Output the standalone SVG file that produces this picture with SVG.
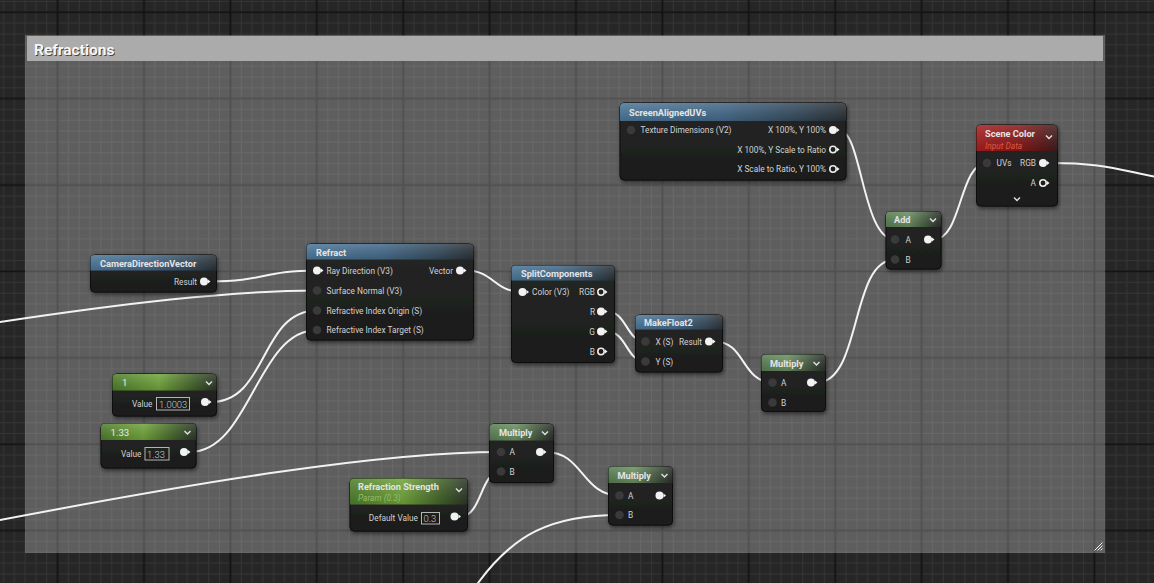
<svg xmlns="http://www.w3.org/2000/svg" width="1154" height="583" viewBox="0 0 1154 583">
<defs>
<pattern id="grid" patternUnits="userSpaceOnUse" x="52.2" y="6.9" width="86.4" height="86.4">
<rect width="86.4" height="86.4" fill="#262626"/>
<path d="M16.2,0V86.4M27,0V86.4M37.8,0V86.4M48.6,0V86.4M59.4,0V86.4M70.2,0V86.4M81,0V86.4M0,16.2H86.4M0,27H86.4M0,37.8H86.4M0,48.6H86.4M0,59.4H86.4M0,70.2H86.4M0,81H86.4" stroke="#353535" stroke-width="1"/>
<path d="M5.4,0V86.4M0,5.4H86.4" stroke="#131313" stroke-width="1.8"/>
</pattern>
<linearGradient id="gBody" x1="0" y1="0" x2="0" y2="1">
<stop offset="0" stop-color="#262726"/><stop offset="1" stop-color="#1b1c1b"/>
</linearGradient>
<linearGradient id="gBlue" x1="0" y1="0" x2="1" y2="0">
<stop offset="0" stop-color="#4b7697"/><stop offset="0.45" stop-color="#44698a"/><stop offset="0.8" stop-color="#34495a"/><stop offset="1" stop-color="#2a3036"/>
</linearGradient>
<linearGradient id="gGreen" x1="0" y1="0" x2="1" y2="0">
<stop offset="0" stop-color="#587d52"/><stop offset="0.4" stop-color="#6a8f62"/><stop offset="0.8" stop-color="#3d4f3a"/><stop offset="1" stop-color="#2a2e29"/>
</linearGradient>
<linearGradient id="gConst" x1="0" y1="0" x2="1" y2="0">
<stop offset="0" stop-color="#4e7d2b"/><stop offset="0.45" stop-color="#70a53a"/><stop offset="0.8" stop-color="#3e5c27"/><stop offset="1" stop-color="#2c3527"/>
</linearGradient>
<linearGradient id="gRed" x1="0" y1="0" x2="1" y2="0">
<stop offset="0" stop-color="#a81e1e"/><stop offset="0.5" stop-color="#8c1818"/><stop offset="0.85" stop-color="#5a1818"/><stop offset="1" stop-color="#3c1e1e"/>
</linearGradient>
<linearGradient id="gGloss" x1="0" y1="0" x2="0" y2="1">
<stop offset="0" stop-color="#fff" stop-opacity="0.14"/><stop offset="1" stop-color="#000" stop-opacity="0.12"/>
</linearGradient>
<filter id="sh" x="-10%" y="-10%" width="130%" height="140%">
<feDropShadow dx="1" dy="2" stdDeviation="2" flood-color="#000" flood-opacity="0.55"/>
</filter>
<style>
.body{fill:url(#gBody);stroke:#0b0b0b;stroke-width:1;filter:url(#sh)}
.hb{fill:url(#gBlue)}.hg{fill:url(#gGreen)}.hc{fill:url(#gConst)}.hr{fill:url(#gRed)}
.gl{fill:url(#gGloss)}
text{font-family:Roboto,"Liberation Sans",sans-serif}
.title{font-size:9.2px;font-weight:bold;fill:#e4e4e4}
.ctitle{font-size:9.6px;fill:#e6e6e6}
.sub{font-size:8.4px;font-style:italic}
.t{font-size:8.3px;fill:#d2d2d2}
.v{font-size:9.4px;font-weight:300;fill:#cfcfcf}
.box{fill:none;stroke:#b4b4b4;stroke-width:1}
.pw{fill:#f2f2f2}
.pd{fill:#3a3a3a}
.ph{fill:none;stroke:#ececec;stroke-width:1.6}
.chev{fill:none;stroke:#e2e2e2;stroke-width:1.4}
.wire{fill:none;stroke:#f2f2f2;stroke-width:2}
</style>
</defs>

<g id="background">
<rect width="1154" height="583" fill="url(#grid)"/>
</g>

<g id="comment-refractions">
<rect x="25" y="35" width="1080" height="518" fill="#ffffff" opacity="0.26"/>
<rect x="27" y="36" width="1076" height="25" fill="#ababab"/>
<text x="35" y="56" font-size="15.5" font-weight="bold" fill="#2a2a2a" opacity="0.8">Refractions</text>
<text x="34" y="55" font-size="15.5" font-weight="bold" fill="#f6f6f6">Refractions</text>
<path d="M1094.5,550.5L1102.5,542.5M1097.5,550.5L1102.5,545.5M1100.5,550.5L1102.5,548.5" stroke="#eeeeee" stroke-width="1"/>
</g>

<g id="connectors">
<path class="wire" d="M839,130 C862,130 862,239.5 895,239.5"/>
<path class="wire" d="M934,239.5 C962,239.5 959,163 987,163"/>
<path class="wire" d="M1049,163 C1100,163 1112,168 1156,177"/>
<path class="wire" d="M210,281.5 C265,281.5 262,270.5 317,270.5"/>
<path class="wire" d="M-2,322.3 C120,304 230,290.5 317,290.5"/>
<path class="wire" d="M211,402 C268,402 260,310.5 317,310.5"/>
<path class="wire" d="M190,452 C250,452 257,330 317,330"/>
<path class="wire" d="M466,270.5 C494,270.5 494,292 522.5,292"/>
<path class="wire" d="M607,311.5 C627,311.5 626,341.5 645.5,341.5"/>
<path class="wire" d="M607,331.5 C627,331.5 626,361.5 645.5,361.5"/>
<path class="wire" d="M715,341.5 C745,341.5 742,382.5 772.5,382.5"/>
<path class="wire" d="M817,382.5 C862,382.5 850,259.5 895,259.5"/>
<path class="wire" d="M-2,520.4 C200,482 380,452 501,452"/>
<path class="wire" d="M460.5,516.5 C482,516.5 480,471.5 501,471.5"/>
<path class="wire" d="M546,452 C583,452 582,495.5 619.5,495.5"/>
<path class="wire" d="M468,596.6 L478,583 C513,535.4 549.5,515 619.5,515"/>
</g>

<g id="node-screenaligneduvs">
<rect class="body" x="620" y="103" width="226" height="77" rx="4"/>
<path class="hb" d="M620,121V107Q620,103 624,103H842Q846,103 846,107V121Z"/>
<path class="gl" d="M620,121V107Q620,103 624,103H842Q846,103 846,107V121Z"/>
<text class="title" x="629" y="115.5">ScreenAlignedUVs</text>
<circle class="pd" cx="631" cy="130" r="4.3"/>
<text class="t" x="640.5" y="133">Texture Dimensions (V2)</text>
<text class="t" x="826" y="133" text-anchor="end">X 100%, Y 100%</text>
<circle class="pw" cx="833" cy="130" r="4"/><path class="pw" d="M837,128L839.5,130L837,132Z"/>
<text class="t" x="826" y="152.5" text-anchor="end">X 100%, Y Scale to Ratio</text>
<circle class="ph" cx="833" cy="149.5" r="3.2"/><path class="pw" d="M837,147.5L839.5,149.5L837,151.5Z"/>
<text class="t" x="826" y="172" text-anchor="end">X Scale to Ratio, Y 100%</text>
<circle class="ph" cx="833" cy="169" r="3.2"/><path class="pw" d="M837,167L839.5,169L837,171Z"/>
</g>

<g id="node-scenecolor">
<rect class="body" x="976.5" y="125" width="81" height="81" rx="4"/>
<path class="hr" d="M976.5,151V129Q976.5,125 980.5,125H1053.5Q1057.5,125 1057.5,129V151Z"/>
<path class="gl" d="M976.5,151V129Q976.5,125 980.5,125H1053.5Q1057.5,125 1057.5,129V151Z"/>
<text class="title" x="985" y="137">Scene Color</text>
<text class="sub" x="985" y="148.5" fill="#d85a45">Input Data</text>
<path class="chev" d="M1046,135.5L1049,138.5L1052,135.5"/>
<circle class="pd" cx="987" cy="163" r="4.3"/>
<text class="t" x="996.5" y="166">UVs</text>
<text class="t" x="1036" y="166" text-anchor="end">RGB</text>
<circle class="pw" cx="1043" cy="163" r="4"/><path class="pw" d="M1047,161L1049.5,163L1047,165Z"/>
<text class="t" x="1036" y="186" text-anchor="end">A</text>
<circle class="ph" cx="1043" cy="183" r="3.2"/><path class="pw" d="M1047,181L1049.5,183L1047,185Z"/>
<path class="chev" d="M1014,197.5L1017,200.5L1020,197.5"/>
</g>

<g id="node-add">
<rect class="body" x="886" y="211.5" width="55" height="57.5" rx="4"/>
<path class="hg" d="M886,227V215.5Q886,211.5 890,211.5H937Q941,211.5 941,215.5V227Z"/>
<path class="gl" d="M886,227V215.5Q886,211.5 890,211.5H937Q941,211.5 941,215.5V227Z"/>
<text class="title" x="894" y="223">Add</text>
<path class="chev" d="M930,218.5L933,221.5L936,218.5"/>
<circle class="pd" cx="895" cy="239.5" r="4.3"/>
<text class="t" x="905.5" y="242.5">A</text>
<circle class="pw" cx="928" cy="239.5" r="4"/><path class="pw" d="M932,237.5L934.5,239.5L932,241.5Z"/>
<circle class="pd" cx="895" cy="259.5" r="4.3"/>
<text class="t" x="905.5" y="262.5">B</text>
</g>

<g id="node-cameradirectionvector">
<rect class="body" x="90.5" y="255" width="126" height="37" rx="4"/>
<path class="hb" d="M90.5,270.5V259Q90.5,255 94.5,255H212.5Q216.5,255 216.5,259V270.5Z"/>
<path class="gl" d="M90.5,270.5V259Q90.5,255 94.5,255H212.5Q216.5,255 216.5,259V270.5Z"/>
<text class="title" x="100" y="266.5">CameraDirectionVector</text>
<text class="t" x="197" y="284.5" text-anchor="end">Result</text>
<circle class="pw" cx="204" cy="281.5" r="4"/><path class="pw" d="M208,279.5L210.5,281.5L208,283.5Z"/>
</g>

<g id="node-refract">
<rect class="body" x="306.5" y="244" width="167" height="96" rx="4"/>
<path class="hb" d="M306.5,259.5V248Q306.5,244 310.5,244H469.5Q473.5,244 473.5,248V259.5Z"/>
<path class="gl" d="M306.5,259.5V248Q306.5,244 310.5,244H469.5Q473.5,244 473.5,248V259.5Z"/>
<text class="title" x="316" y="255.5">Refract</text>
<circle class="pw" cx="317" cy="270.5" r="4"/><path class="pw" d="M321,268.5L323.5,270.5L321,272.5Z"/>
<text class="t" x="326.5" y="273.5">Ray Direction (V3)</text>
<circle class="pd" cx="317" cy="290.5" r="4.3"/>
<text class="t" x="326.5" y="293.5">Surface Normal (V3)</text>
<circle class="pd" cx="317" cy="310.5" r="4.3"/>
<text class="t" x="326.5" y="313.5">Refractive Index Origin (S)</text>
<circle class="pd" cx="317" cy="330" r="4.3"/>
<text class="t" x="326.5" y="333">Refractive Index Target (S)</text>
<text class="t" x="453" y="273.5" text-anchor="end">Vector</text>
<circle class="pw" cx="460" cy="270.5" r="4"/><path class="pw" d="M464,268.5L466.5,270.5L464,272.5Z"/>
</g>

<g id="node-splitcomponents">
<rect class="body" x="511.5" y="265.5" width="103" height="97" rx="4"/>
<path class="hb" d="M511.5,280.5V269.5Q511.5,265.5 515.5,265.5H610.5Q614.5,265.5 614.5,269.5V280.5Z"/>
<path class="gl" d="M511.5,280.5V269.5Q511.5,265.5 515.5,265.5H610.5Q614.5,265.5 614.5,269.5V280.5Z"/>
<text class="title" x="521" y="277">SplitComponents</text>
<circle class="pw" cx="522.5" cy="292" r="4"/><path class="pw" d="M526.5,290L529,292L526.5,294Z"/>
<text class="t" x="532" y="295">Color (V3)</text>
<text class="t" x="595" y="295" text-anchor="end">RGB</text>
<circle class="ph" cx="601" cy="292" r="3.2"/><path class="pw" d="M605,290L607.5,292L605,294Z"/>
<text class="t" x="595" y="314.5" text-anchor="end">R</text>
<circle class="pw" cx="601" cy="311.5" r="4"/><path class="pw" d="M605,309.5L607.5,311.5L605,313.5Z"/>
<text class="t" x="595" y="334.5" text-anchor="end">G</text>
<circle class="pw" cx="601" cy="331.5" r="4"/><path class="pw" d="M605,329.5L607.5,331.5L605,333.5Z"/>
<text class="t" x="595" y="354.5" text-anchor="end">B</text>
<circle class="ph" cx="601" cy="351.5" r="3.2"/><path class="pw" d="M605,349.5L607.5,351.5L605,353.5Z"/>
</g>

<g id="node-makefloat2">
<rect class="body" x="635.5" y="315" width="87" height="57" rx="4"/>
<path class="hb" d="M635.5,329.5V319Q635.5,315 639.5,315H718.5Q722.5,315 722.5,319V329.5Z"/>
<path class="gl" d="M635.5,329.5V319Q635.5,315 639.5,315H718.5Q722.5,315 722.5,319V329.5Z"/>
<text class="title" x="644" y="326">MakeFloat2</text>
<circle class="pd" cx="645.5" cy="341.5" r="4.3"/>
<text class="t" x="655.5" y="344.5">X (S)</text>
<circle class="pd" cx="645.5" cy="361.5" r="4.3"/>
<text class="t" x="655.5" y="364.5">Y (S)</text>
<text class="t" x="702" y="344.5" text-anchor="end">Result</text>
<circle class="pw" cx="709" cy="341.5" r="4"/><path class="pw" d="M713,339.5L715.5,341.5L713,343.5Z"/>
</g>

<g id="node-constant-1">
<rect class="body" x="112.5" y="374" width="104" height="42" rx="4"/>
<path class="hc" d="M112.5,390.5V378Q112.5,374 116.5,374H212.5Q216.5,374 216.5,378V390.5Z"/>
<path class="gl" d="M112.5,390.5V378Q112.5,374 116.5,374H212.5Q216.5,374 216.5,378V390.5Z"/>
<text class="ctitle" x="122" y="385.5">1</text>
<path class="chev" d="M206,381.5L209,384.5L212,381.5"/>
<text class="t" x="152.5" y="406.5" text-anchor="end">Value</text>
<rect class="box" x="156.5" y="397.5" width="33" height="12.5"/>
<text class="v" x="159" y="407.5">1.0003</text>
<circle class="pw" cx="205" cy="402" r="4"/><path class="pw" d="M209,400L211.5,402L209,404Z"/>
</g>

<g id="node-constant-133">
<rect class="body" x="101" y="423.5" width="95" height="44.5" rx="4"/>
<path class="hc" d="M101,440V427.5Q101,423.5 105,423.5H192Q196,423.5 196,427.5V440Z"/>
<path class="gl" d="M101,440V427.5Q101,423.5 105,423.5H192Q196,423.5 196,427.5V440Z"/>
<text class="ctitle" x="110.5" y="435.5">1.33</text>
<path class="chev" d="M184.5,431L187.5,434L190.5,431"/>
<text class="t" x="141.5" y="456.5" text-anchor="end">Value</text>
<rect class="box" x="145" y="447.5" width="24" height="12.5"/>
<text class="v" x="147" y="457.5">1.33</text>
<circle class="pw" cx="184" cy="452" r="4"/><path class="pw" d="M188,450L190.5,452L188,454Z"/>
</g>

<g id="node-multiply-top">
<rect class="body" x="489.5" y="424" width="64" height="58.5" rx="4"/>
<path class="hg" d="M489.5,440.5V428Q489.5,424 493.5,424H549.5Q553.5,424 553.5,428V440.5Z"/>
<path class="gl" d="M489.5,440.5V428Q489.5,424 493.5,424H549.5Q553.5,424 553.5,428V440.5Z"/>
<text class="title" x="499" y="436">Multiply</text>
<path class="chev" d="M542,431.5L545,434.5L548,431.5"/>
<circle class="pd" cx="501" cy="452" r="4.3"/>
<text class="t" x="509.5" y="455">A</text>
<circle class="pw" cx="540" cy="452" r="4"/><path class="pw" d="M544,450L546.5,452L544,454Z"/>
<circle class="pd" cx="501" cy="471.5" r="4.3"/>
<text class="t" x="509.5" y="474.5">B</text>
</g>

<g id="node-refraction-strength">
<rect class="body" x="350" y="478.5" width="117.5" height="52.5" rx="4"/>
<path class="hc" d="M350,504.5V482.5Q350,478.5 354,478.5H463.5Q467.5,478.5 467.5,482.5V504.5Z"/>
<path class="gl" d="M350,504.5V482.5Q350,478.5 354,478.5H463.5Q467.5,478.5 467.5,482.5V504.5Z"/>
<text class="title" x="358" y="490">Refraction Strength</text>
<text class="sub" x="358" y="501" fill="#96bd68">Param (0.3)</text>
<path class="chev" d="M456,488.5L459,491.5L462,488.5"/>
<text class="t" x="418" y="521" text-anchor="end">Default Value</text>
<rect class="box" x="421.5" y="512.5" width="18" height="11.5"/>
<text class="v" x="423.5" y="522">0.3</text>
<circle class="pw" cx="454.5" cy="516.5" r="4"/><path class="pw" d="M458.5,514.5L461,516.5L458.5,518.5Z"/>
</g>

<g id="node-multiply-bottom">
<rect class="body" x="608.5" y="466.5" width="64" height="58.5" rx="4"/>
<path class="hg" d="M608.5,483V470.5Q608.5,466.5 612.5,466.5H668.5Q672.5,466.5 672.5,470.5V483Z"/>
<path class="gl" d="M608.5,483V470.5Q608.5,466.5 612.5,466.5H668.5Q672.5,466.5 672.5,470.5V483Z"/>
<text class="title" x="617.5" y="478.5">Multiply</text>
<path class="chev" d="M661.5,474L664.5,477L667.5,474"/>
<circle class="pd" cx="619.5" cy="495.5" r="4.3"/>
<text class="t" x="628" y="498.5">A</text>
<circle class="pw" cx="659.5" cy="495.5" r="4"/><path class="pw" d="M663.5,493.5L666,495.5L663.5,497.5Z"/>
<circle class="pd" cx="619.5" cy="515" r="4.3"/>
<text class="t" x="628" y="518">B</text>
</g>

<g id="node-multiply-right">
<rect class="body" x="761.5" y="354.5" width="64" height="57" rx="4"/>
<path class="hg" d="M761.5,371V358.5Q761.5,354.5 765.5,354.5H821.5Q825.5,354.5 825.5,358.5V371Z"/>
<path class="gl" d="M761.5,371V358.5Q761.5,354.5 765.5,354.5H821.5Q825.5,354.5 825.5,358.5V371Z"/>
<text class="title" x="770" y="366.5">Multiply</text>
<path class="chev" d="M813.5,362L816.5,365L819.5,362"/>
<circle class="pd" cx="772.5" cy="382.5" r="4.3"/>
<text class="t" x="781" y="385.5">A</text>
<circle class="pw" cx="811" cy="382.5" r="4"/><path class="pw" d="M815,380.5L817.5,382.5L815,384.5Z"/>
<circle class="pd" cx="772.5" cy="402.5" r="4.3"/>
<text class="t" x="781" y="405.5">B</text>
</g>
</svg>
